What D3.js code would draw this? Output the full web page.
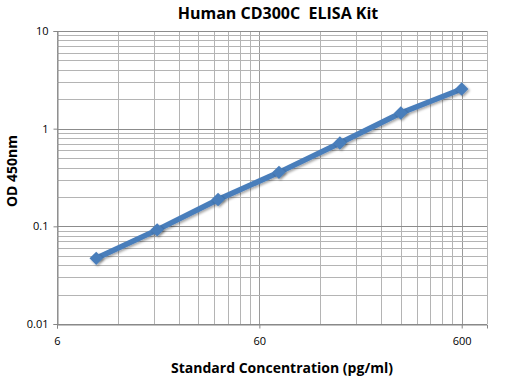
<!DOCTYPE html>
<html>
<head>
<meta charset="utf-8">
<script src="https://cdn.jsdelivr.net/npm/d3@7"></script>
<style>
  body { margin: 0; background: #fff; }
  text { font-family: "Open Sans", sans-serif; white-space: pre; }
</style>
</head>
<body>
<svg id="chart" width="512" height="377"></svg>
<script>
// standard curve: concentration (pg/ml) vs OD 450nm
var conc = [9.375, 18.75, 37.5, 75, 150, 300, 600];
var od = [0.047, 0.092, 0.188, 0.357, 0.714, 1.447, 2.55];
var xTicks = [6, 60, 600];
var yTicks = [0.01, 0.1, 1, 10];

var svg = d3.select("#chart");

var margin = { top: 31, right: 25, bottom: 53, left: 57 },
    width = 512 - margin.left - margin.right,
    height = 377 - margin.top - margin.bottom,
    g = svg.append("g").attr("transform", "translate(" + margin.left + "," + margin.top + ")");

var x = d3.scaleLog().domain([6, 800]).range([0, width]);
var y = d3.scaleLog().domain([0.01, 10]).range([height, 0]);

// shadow like the excel marker effect
var defs = svg.append("defs");
defs.append("filter").attr("id", "shadow")
    .attr("x", "-20%").attr("y", "-20%").attr("width", "140%").attr("height", "140%")
  .append("feDropShadow")
    .attr("dx", 1.5).attr("dy", 1.5).attr("stdDeviation", 1.2)
    .attr("flood-color", "#000").attr("flood-opacity", 0.35);

// grid lines, minor ones at every multiple of the decade base
var xGrid = [];
[6, 60, 600].forEach(function(b) {
    for (var k = 1; k <= 9; k++) if (b * k <= 800) xGrid.push(b * k);
});
var yGrid = [];
[0.01, 0.1, 1].forEach(function(b) {
    for (var k = 1; k <= 9; k++) yGrid.push(b * k);
});
yGrid.push(10);

g.selectAll(".vgrid").data(xGrid).enter().append("line")
    .attr("x1", d => Math.round(x(d)) + 0.5).attr("x2", d => Math.round(x(d)) + 0.5)
    .attr("y1", 0).attr("y2", height)
    .attr("stroke", d => xTicks.indexOf(d) >= 0 ? "#9a9a9a" : "#b4b4b4")
    .attr("stroke-width", 1);

g.selectAll(".hgrid").data(yGrid).enter().append("line")
    .attr("y1", d => Math.round(y(d)) + 0.5).attr("y2", d => Math.round(y(d)) + 0.5)
    .attr("x1", 0).attr("x2", width)
    .attr("stroke", d => yTicks.indexOf(d) >= 0 ? "#8c8c8c" : "#b4b4b4")
    .attr("stroke-width", 1);

// plot border right side
g.append("line")
    .attr("x1", width + 0.5).attr("x2", width + 0.5)
    .attr("y1", 0).attr("y2", height)
    .attr("stroke", "#b4b4b4");

// axes
var xAxis = g.append("g")
    .attr("transform", "translate(0," + (Math.round(height) + 0.5) + ")")
    .call(d3.axisBottom(x).tickValues(xTicks).tickFormat(d3.format("d")).tickSize(4).tickPadding(9));
var yAxis = g.append("g")
    .attr("transform", "translate(0.5,0)")
    .call(d3.axisLeft(y).tickValues(yTicks).tickFormat(d => d).tickSize(4).tickPadding(5));

[xAxis, yAxis].forEach(function(a) {
    a.select(".domain").attr("stroke", "#868686");
    a.selectAll(".tick line").attr("stroke", "#868686");
    a.selectAll(".tick text")
        .attr("font-size", "11px")
        .attr("font-family", "'Open Sans', sans-serif")
        .attr("fill", "#000");
});

// curve
var line = d3.line()
    .x((d, i) => x(conc[i]))
    .y(d => y(d));

g.append("path")
    .datum(od)
    .attr("fill", "none")
    .attr("stroke", "#4a7ebb")
    .attr("stroke-width", 5.5)
    .attr("stroke-linejoin", "round")
    .attr("filter", "url(#shadow)")
    .attr("d", line);

g.selectAll(".pt").data(od).enter().append("path")
    .attr("transform", (d, i) => "translate(" + x(conc[i]) + "," + y(d) + ")")
    .attr("d", d3.symbol().type(d3.symbolDiamond2).size(115))
    .attr("fill", "#4a7ebb")
    .attr("filter", "url(#shadow)");

// titles
svg.append("text")
    .attr("x", 278).attr("y", 19)
    .attr("text-anchor", "middle")
    .attr("font-size", "16px").attr("font-weight", "bold")
    .text("Human CD300C  ELISA Kit");

svg.append("text")
    .attr("x", 282).attr("y", 373)
    .attr("text-anchor", "middle")
    .attr("font-size", "14px").attr("font-weight", "bold")
    .text("Standard Concentration (pg/ml)");

svg.append("text")
    .attr("transform", "translate(17,171) rotate(-90)")
    .attr("text-anchor", "middle")
    .attr("font-size", "14px").attr("font-weight", "bold")
    .text("OD 450nm");
</script>
</body>
</html>
